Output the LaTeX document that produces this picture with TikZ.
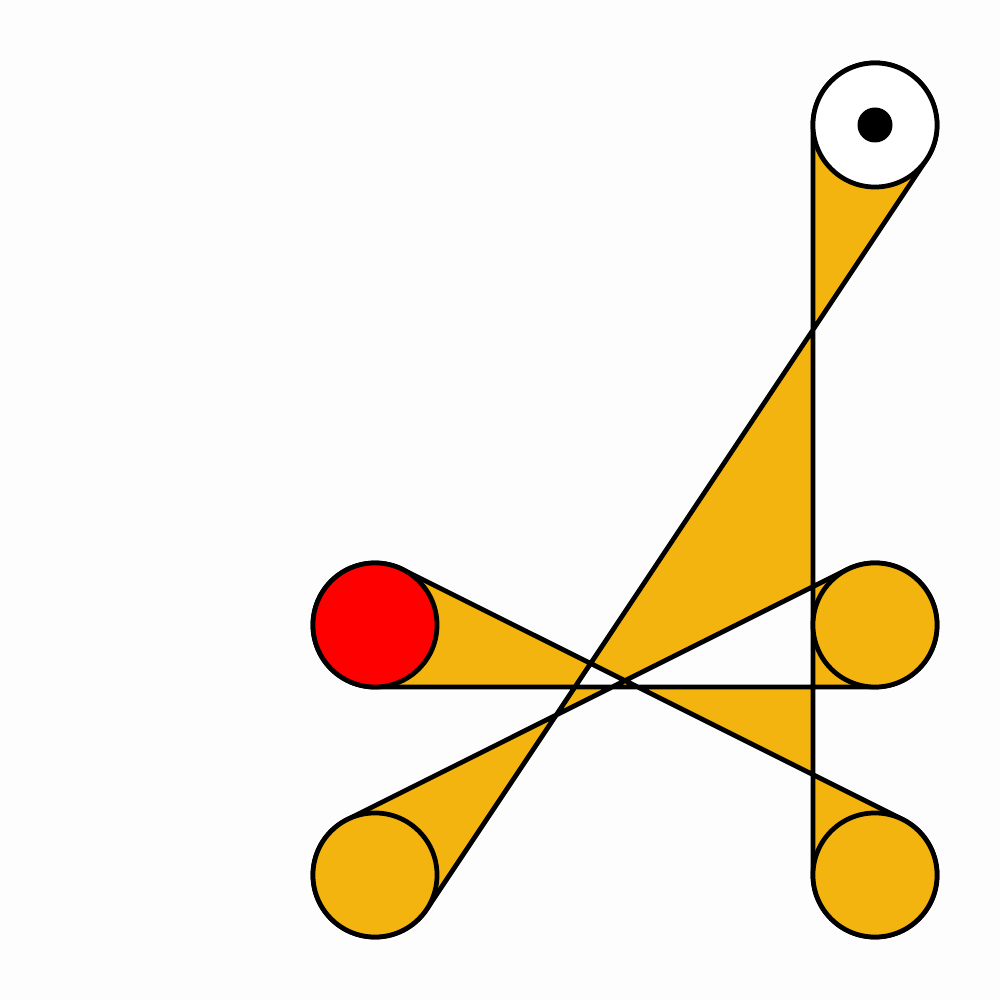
\documentclass[tikz,border=0pt]{standalone}
\definecolor{beltgold}{RGB}{244,180,16}
\definecolor{bgcol}{RGB}{253,253,253}
\tikzset{
  pulley/.style={circle, draw=black, line width=1.35pt, minimum size=1.24cm, inner sep=0pt, fill=beltgold},
  hub/.style={circle, fill=black, minimum size=0.35cm, inner sep=0pt},
  belt/.style={fill=beltgold, draw=black, line width=1.35pt, even odd rule, line join=round}
}
\begin{document}
\begin{tikzpicture}[x=0.01cm,y=0.01cm]
\fill[bgcol] (0,0) rectangle (1000,1000);
\useasboundingbox (0,0) rectangle (1000,1000);
\coordinate (cT) at (875,875);
\coordinate (cR) at (375,375);
\coordinate (cM) at (875,375);
\coordinate (cBL) at (375,125);
\coordinate (cBR) at (875,125);
% belt
\path[belt] (813,875) -- (813,125)
  arc[start angle=180, end angle=423.43, radius=0.62cm]
  -- (402.73,430.46)
  arc[start angle=63.43, end angle=270, radius=0.62cm]
  -- (875,313)
  arc[start angle=270, end angle=476.57, radius=0.62cm]
  -- (347.27,180.46)
  arc[start angle=116.57, end angle=326.31, radius=0.62cm]
  -- (926.59,840.61)
  arc[start angle=326.31, end angle=540, radius=0.62cm]
  -- cycle;
% pulleys
\node[pulley, fill=white] (T) at (cT) {};
\node[hub] (Thub) at (cT) {};
\node[pulley, fill=red] (R) at (cR) {};
\node[pulley] (M) at (cM) {};
\node[pulley] (BL) at (cBL) {};
\node[pulley] (BR) at (cBR) {};
\end{tikzpicture}
\end{document}
